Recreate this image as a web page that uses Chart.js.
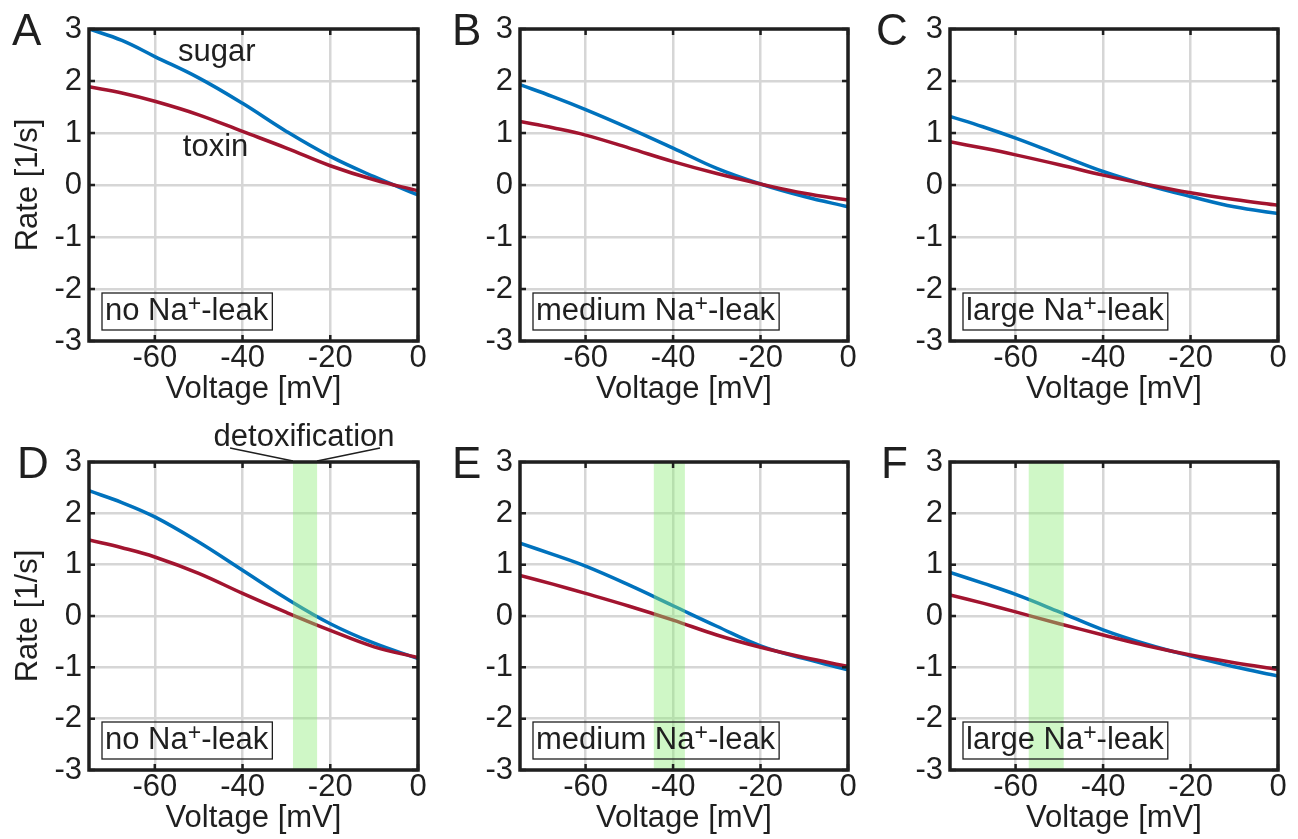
<!DOCTYPE html>
<html>
<head>
<meta charset="utf-8">
<script src="https://cdn.jsdelivr.net/npm/chart.js@4.4.1/dist/chart.umd.min.js"></script>
<style>
  html, body { margin: 0; padding: 0; background: #fff; }
  #fig { position: relative; width: 1298px; height: 839px; overflow: hidden; background: #fff; }
  .panel { position: absolute; }
</style>
</head>
<body>
<div id="fig"></div>
<script>
const voltage = [-75, -67.5, -60, -50, -40, -30, -20, -10, 0];

// rates (1/s), top row
const sugarA = [3.00, 2.78, 2.47, 2.06, 1.57, 1.03, 0.55, 0.16, -0.19];
const toxinA = [1.89, 1.77, 1.61, 1.35, 1.03, 0.71, 0.37, 0.10, -0.11];
const sugarB = [1.93, 1.70, 1.45, 1.09, 0.71, 0.32, 0.02, -0.22, -0.42];
const toxinB = [1.22, 1.10, 0.96, 0.71, 0.45, 0.22, 0.02, -0.16, -0.29];
const sugarC = [1.32, 1.12, 0.90, 0.58, 0.26, 0.00, -0.22, -0.42, -0.55];
const toxinC = [0.83, 0.71, 0.58, 0.39, 0.19, 0.01, -0.15, -0.28, -0.39];

// rates (1/s), bottom row
const sugarD = [2.44, 2.21, 1.93, 1.44, 0.89, 0.34, -0.15, -0.53, -0.83];
const toxinD = [1.48, 1.33, 1.15, 0.83, 0.44, 0.07, -0.28, -0.60, -0.81];
const sugarE = [1.42, 1.20, 0.97, 0.60, 0.20, -0.20, -0.58, -0.83, -1.05];
const toxinE = [0.79, 0.62, 0.44, 0.19, -0.08, -0.37, -0.61, -0.81, -0.98];
const sugarF = [0.85, 0.64, 0.42, 0.08, -0.27, -0.55, -0.78, -0.99, -1.17];
const toxinF = [0.41, 0.25, 0.08, -0.15, -0.37, -0.58, -0.76, -0.91, -1.04];

// detoxification windows (mV)
const bandD = [-28.5, -23.0];
const bandE = [-44.4, -37.3];
const bandF = [-57.0, -49.0];

const xTicks = [-60, -40, -20, 0];
const yTicks = [-3, -2, -1, 0, 1, 2, 3];
const leakSizes = ['no', 'medium', 'large'];
const panelLetters = ['A', 'B', 'C', 'D', 'E', 'F'];

const FONT = '"Liberation Sans", Arial, Helvetica, sans-serif';
const INK = '#1f1f1f';
const BLUE = 'rgb(0,114,189)';
const RED = 'rgb(162,20,47)';
const GRID = 'rgb(214,214,214)';

// panel boxes in page pixels
const rows = [
  { cy: 0, ch: 420, padTop: 29, xh: 79, xTitlePad: 12 },
  { cy: 420, ch: 419, padTop: 42, xh: 69, xTitlePad: 2 }
];
const cols = [
  { cx: 0, cw: 430, yw: 89, padRight: 12, letterX: [12, 17] },
  { cx: 430, cw: 430, yw: 90, padRight: 12, letterX: [22, 22] },
  { cx: 860, cw: 438, yw: 90, padRight: 20, letterX: [16, 21] }
];

const decor = {
  id: 'decor',
  afterDatasetsDraw(chart, args, o) {
    if (!o.band) return;
    const { ctx, chartArea: a, scales: { x } } = chart;
    const x0 = x.getPixelForValue(o.band[0]);
    const x1 = x.getPixelForValue(o.band[1]);
    ctx.save();
    ctx.fillStyle = 'rgba(140,235,120,0.42)';
    ctx.fillRect(x0, a.top, x1 - x0, a.bottom - a.top);
    ctx.restore();
  },
  afterDraw(chart, args, o) {
    const { ctx, chartArea: a, scales: { x, y } } = chart;
    ctx.save();

    // inward tick marks on all four sides
    ctx.strokeStyle = INK;
    ctx.lineWidth = 2.5;
    ctx.beginPath();
    xTicks.forEach(v => {
      const px = x.getPixelForValue(v);
      ctx.moveTo(px, a.top); ctx.lineTo(px, a.top + 6);
      ctx.moveTo(px, a.bottom); ctx.lineTo(px, a.bottom - 6);
    });
    yTicks.forEach(v => {
      const py = y.getPixelForValue(v);
      ctx.moveTo(a.left, py); ctx.lineTo(a.left + 6, py);
      ctx.moveTo(a.right, py); ctx.lineTo(a.right - 6, py);
    });
    ctx.stroke();

    // axes box
    ctx.lineWidth = 3.5;
    ctx.strokeRect(a.left, a.top, a.right - a.left, a.bottom - a.top);

    // panel letter
    ctx.fillStyle = INK;
    ctx.textAlign = 'left';
    ctx.textBaseline = 'alphabetic';
    ctx.font = '44px ' + FONT;
    ctx.fillText(o.letter, o.letterX, a.top + 16);

    // Na+-leak label with box
    ctx.font = '31px ' + FONT;
    const t1 = o.leak + ' Na';
    const t2 = '-leak';
    const w1 = ctx.measureText(t1).width;
    const w3 = ctx.measureText(t2).width;
    ctx.font = '23px ' + FONT;
    const w2 = ctx.measureText('+').width;
    const bx = a.left + 13;
    const bb = a.bottom - 11;
    const bw = w1 + w2 + w3 + 7;
    const bh = 37;
    ctx.lineWidth = 1.3;
    ctx.strokeRect(bx, bb - bh, bw, bh);
    const base = bb - 10;
    ctx.font = '31px ' + FONT;
    ctx.fillText(t1, bx + 3, base);
    ctx.fillText(t2, bx + 3 + w1 + w2, base);
    ctx.font = '23px ' + FONT;
    ctx.fillText('+', bx + 3 + w1, base - 9);

    // curve names
    ctx.font = '31px ' + FONT;
    (o.notes || []).forEach(n => {
      ctx.fillText(n.text, x.getPixelForValue(n.x), y.getPixelForValue(n.y));
    });

    // detoxification bracket above the band
    if (o.detox) {
      const x0 = x.getPixelForValue(o.band[0]);
      const x1 = x.getPixelForValue(o.band[1]);
      const cx = (x0 + x1) / 2;
      ctx.textAlign = 'center';
      ctx.fillText('detoxification', cx - 1, a.top - 16);
      ctx.lineWidth = 1.3;
      ctx.beginPath();
      ctx.moveTo(cx - 75, a.top - 14); ctx.lineTo(x0, a.top - 1);
      ctx.moveTo(cx + 75, a.top - 14); ctx.lineTo(x1, a.top - 1);
      ctx.stroke();
    }
    ctx.restore();
  }
};

const sugars = [sugarA, sugarB, sugarC, sugarD, sugarE, sugarF];
const toxins = [toxinA, toxinB, toxinC, toxinD, toxinE, toxinF];
const bands = [null, null, null, bandD, bandE, bandF];

function pts(vals) {
  return voltage.map((v, k) => ({ x: v, y: vals[k] }));
}

const fig = document.getElementById('fig');

for (let i = 0; i < 6; i++) {
  const r = rows[Math.floor(i / 3)];
  const c = cols[i % 3];
  const div = document.createElement('div');
  div.className = 'panel';
  div.style.left = c.cx + 'px';
  div.style.top = r.cy + 'px';
  div.style.width = c.cw + 'px';
  div.style.height = r.ch + 'px';
  const canvas = document.createElement('canvas');
  canvas.width = c.cw;
  canvas.height = r.ch;
  div.appendChild(canvas);
  fig.appendChild(div);

  const notes = i === 0 ? [
    { text: 'sugar', x: -54.7, y: 2.38 },
    { text: 'toxin', x: -53.6, y: 0.56 }
  ] : [];

  new Chart(canvas, {
    type: 'line',
    data: {
      datasets: [
        { data: pts(toxins[i]), borderColor: RED, borderWidth: 3.5, pointRadius: 0,
          tension: 0.4, fill: false },
        { data: pts(sugars[i]), borderColor: BLUE, borderWidth: 3.5, pointRadius: 0,
          tension: 0.4, fill: false }
      ]
    },
    options: {
      responsive: false,
      animation: false,
      devicePixelRatio: 1,
      layout: { padding: { left: 0, top: r.padTop, right: c.padRight, bottom: 0 } },
      plugins: {
        legend: { display: false },
        tooltip: { enabled: false },
        decor: {
          letter: panelLetters[i],
          letterX: c.letterX[Math.floor(i / 3)],
          leak: leakSizes[i % 3],
          band: bands[i],
          detox: i === 3,
          notes: notes
        }
      },
      scales: {
        x: {
          type: 'linear', min: -75, max: 0,
          afterBuildTicks: s => { s.ticks = xTicks.map(v => ({ value: v })); },
          afterFit: s => { s.height = r.xh; },
          grid: { color: GRID, lineWidth: 2.5, drawTicks: false },
          border: { display: false },
          ticks: { color: INK, padding: 0, autoSkip: false, maxRotation: 0,
                   font: { family: FONT, size: 31, lineHeight: 1.1 },
                   callback: v => String(v) },
          title: { display: true, text: 'Voltage [mV]', color: INK,
                   font: { family: FONT, size: 31, lineHeight: 1.2 },
                   padding: { top: 0, bottom: r.xTitlePad } }
        },
        y: {
          type: 'linear', min: -3, max: 3,
          afterBuildTicks: s => { s.ticks = yTicks.map(v => ({ value: v })); },
          afterFit: s => { s.width = c.yw; },
          grid: { color: GRID, lineWidth: 2.5, drawTicks: false },
          border: { display: false },
          ticks: { color: INK, padding: 7,
                   font: { family: FONT, size: 31, lineHeight: 1.2 },
                   callback: v => String(v) },
          title: { display: i % 3 === 0, text: 'Rate [1/s]', color: INK,
                   font: { family: FONT, size: 31, lineHeight: 1.2 },
                   padding: { top: 10, bottom: 0 } }
        }
      }
    },
    plugins: [decor]
  });
}
</script>
</body>
</html>
